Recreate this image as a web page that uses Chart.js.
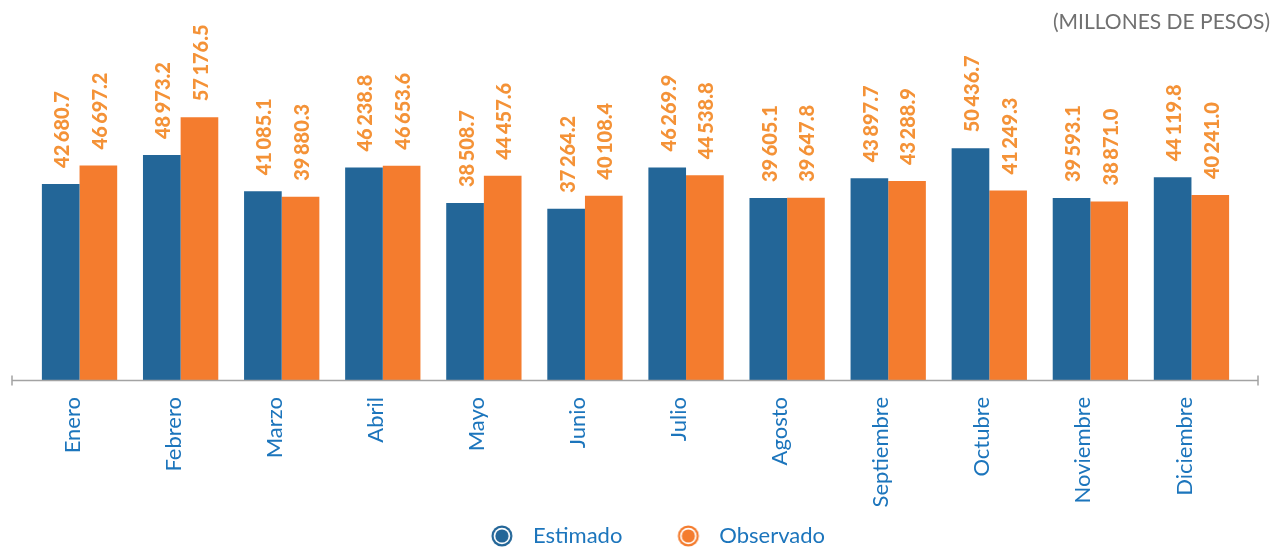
<!DOCTYPE html>
<html>
<head>
<meta charset="utf-8">
<script src="https://cdn.jsdelivr.net/npm/chart.js@4"></script>
<style>
  html, body { margin: 0; padding: 0; background: #fff; }
  #wrap { width: 1276px; height: 551px; position: relative; }
</style>
</head>
<body>
<div id="wrap"><canvas id="recaudacion"></canvas></div>
<script>
const meses = ["Enero", "Febrero", "Marzo", "Abril", "Mayo", "Junio", "Julio",
  "Agosto", "Septiembre", "Octubre", "Noviembre", "Diciembre"];
const estimado = [42680.7, 48973.2, 41085.1, 46238.8, 38508.7, 37264.2, 46269.9,
  39605.1, 43897.7, 50436.7, 39593.1, 44119.8];
const observado = [46697.2, 57176.5, 39880.3, 46653.6, 44457.6, 40108.4, 44538.8,
  39647.8, 43288.9, 41249.3, 38871.0, 40241.0];
const unidades = "(MILLONES DE PESOS)";

const AZUL = "#236698";
const NARANJA = "#F47C2E";
const TEXTO_AZUL = "#1C75BC";

Chart.defaults.font.family = "Lato";

// 1234.5 -> "1 234.5"
function formato(v) {
  const partes = v.toFixed(1).split(".");
  return partes[0].replace(/\B(?=(\d{3})+(?!\d))/g, "\u2009") + "." + partes[1];
}

// circulo doble para la leyenda, con espacio a la izquierda
function punto(color) {
  const c = document.createElement("canvas");
  c.width = 64;
  c.height = 24;
  const g = c.getContext("2d");
  const cx = 50, cy = 12;
  g.fillStyle = color;
  g.beginPath(); g.arc(cx, cy, 10.5, 0, Math.PI * 2); g.fill();
  g.fillStyle = "#fff";
  g.beginPath(); g.arc(cx, cy, 8.3, 0, Math.PI * 2); g.fill();
  g.fillStyle = color;
  g.beginPath(); g.arc(cx, cy, 6.6, 0, Math.PI * 2); g.fill();
  return c;
}
const puntos = [punto(AZUL), punto(NARANJA)];

const etiquetas = {
  id: "etiquetas",
  afterDatasetsDraw(chart) {
    const ctx = chart.ctx;
    ctx.save();
    ctx.font = "900 20px Lato";
    ctx.fillStyle = "#F49237";
    ctx.textAlign = "left";
    ctx.textBaseline = "middle";
    chart.data.datasets.forEach((ds, i) => {
      chart.getDatasetMeta(i).data.forEach((bar, j) => {
        ctx.save();
        ctx.translate(bar.x + 2, bar.y - 16);
        ctx.rotate(-Math.PI / 2);
        ctx.fillText(formato(ds.data[j]), 0, 0);
        ctx.restore();
      });
    });
    ctx.restore();
  }
};

const ejeYTitulo = {
  id: "ejeYTitulo",
  afterDraw(chart) {
    const ctx = chart.ctx;
    const y = Math.round(chart.chartArea.bottom) + 0.5;
    ctx.save();
    ctx.strokeStyle = "#a3a3a3";
    ctx.lineWidth = 1.5;
    ctx.beginPath();
    ctx.moveTo(12, y); ctx.lineTo(1258, y);
    ctx.moveTo(12, y - 5); ctx.lineTo(12, y + 5);
    ctx.moveTo(1258, y - 5); ctx.lineTo(1258, y + 5);
    ctx.stroke();
    ctx.font = "21px Lato";
    ctx.fillStyle = "#707070";
    ctx.textAlign = "right";
    ctx.textBaseline = "middle";
    ctx.fillText(unidades, 1270, 22);
    ctx.restore();
  }
};

new Chart(document.getElementById("recaudacion"), {
  type: "bar",
  data: {
    labels: meses,
    datasets: [
      { label: "Estimado", data: estimado, backgroundColor: AZUL,
        categoryPercentage: 0.745, barPercentage: 1.0 },
      { label: "Observado", data: observado, backgroundColor: NARANJA,
        categoryPercentage: 0.745, barPercentage: 1.0 }
    ]
  },
  options: {
    responsive: true,
    maintainAspectRatio: false,
    animation: false,
    layout: { padding: { left: 29, right: 34, top: 40, bottom: -6 } },
    scales: {
      x: {
        grid: { display: false, drawTicks: false },
        border: { display: false },
        ticks: {
          autoSkip: false,
          minRotation: 90,
          maxRotation: 90,
          padding: 17,
          labelOffset: -7,
          color: TEXTO_AZUL,
          font: { size: 22 }
        },
        afterFit: (scale) => { scale.height = 135; }
      },
      y: { display: false, min: 0, max: 74000 }
    },
    plugins: {
      tooltip: { enabled: false },
      legend: {
        position: "bottom",
        labels: {
          usePointStyle: true,
          pointStyleWidth: 76,
          padding: 10,
          color: TEXTO_AZUL,
          font: { size: 22 },
          generateLabels: (chart) => chart.data.datasets.map((ds, i) => ({
            text: ds.label,
            pointStyle: puntos[i],
            fillStyle: ds.backgroundColor,
            strokeStyle: ds.backgroundColor,
            lineWidth: 0,
            hidden: false,
            datasetIndex: i,
            fontColor: TEXTO_AZUL
          }))
        }
      }
    }
  },
  plugins: [etiquetas, ejeYTitulo]
});
</script>
</body>
</html>
